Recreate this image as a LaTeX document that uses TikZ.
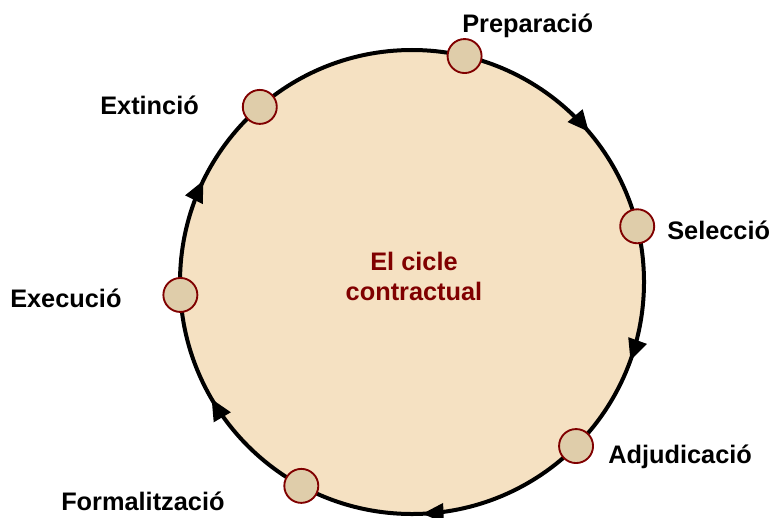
\documentclass[tikz,border=0pt]{standalone}
\usepackage{fontspec}
\setmainfont{Liberation Sans}
\usetikzlibrary{arrows.meta,decorations.markings}
\definecolor{cyclefill}{HTML}{F5E1C2}
\definecolor{stagefill}{HTML}{DFCDAA}
\definecolor{cyclered}{HTML}{800000}

\begin{document}
\begin{tikzpicture}[x=0.75pt,y=-0.75pt,>={Triangle[length=16pt,width=14pt]},
    stage/.style={circle,draw=cyclered,fill=stagefill,line width=1.4pt,minimum size=25.5pt,inner sep=0pt},
    lbl/.style={font=\fontsize{19}{22.5}\selectfont\bfseries,inner sep=0pt,anchor=base west},
    flow/.style={postaction={decorate},decoration={markings,
      mark=at position 0.055 with {\arrow{>}},
      mark=at position 0.243 with {\arrow{>}},
      mark=at position 0.416 with {\arrow{>}},
      mark=at position 0.572 with {\arrow{>}},
      mark=at position 0.888 with {\arrow{>}}}}]
  \useasboundingbox (0,0) rectangle (773,517);
  \coordinate (c) at (412,282);
  % cycle
  \draw[line width=3pt,fill=cyclefill,flow] (c) circle (232);
  \node[font=\fontsize{19}{22.5}\selectfont\bfseries,text=cyclered,align=center,inner sep=0pt] (title) at (414,276) {El cicle\\contractual};
  % stages
  \node[stage] (prep) at ([shift={(-76.9:232)}]c) {};
  \node[stage] (sel) at ([shift={(-13.9:232)}]c) {};
  \node[stage] (adj) at ([shift={(45:232)}]c) {};
  \node[stage] (form) at ([shift={(118.5:232)}]c) {};
  \node[stage] (exec) at ([shift={(176.8:232)}]c) {};
  \node[stage] (ext) at ([shift={(229:232)}]c) {};
  % labels
  \node[lbl] (prepT) at (462,33) {Preparació};
  \node[lbl] (selT) at (667,239) {Selecció};
  \node[lbl] (adjT) at (608,463) {Adjudicació};
  \node[lbl] (formT) at (61,510) {Formalització};
  \node[lbl] (execT) at (10,307) {Execució};
  \node[lbl] (extT) at (100,114) {Extinció};
\end{tikzpicture}
\end{document}
